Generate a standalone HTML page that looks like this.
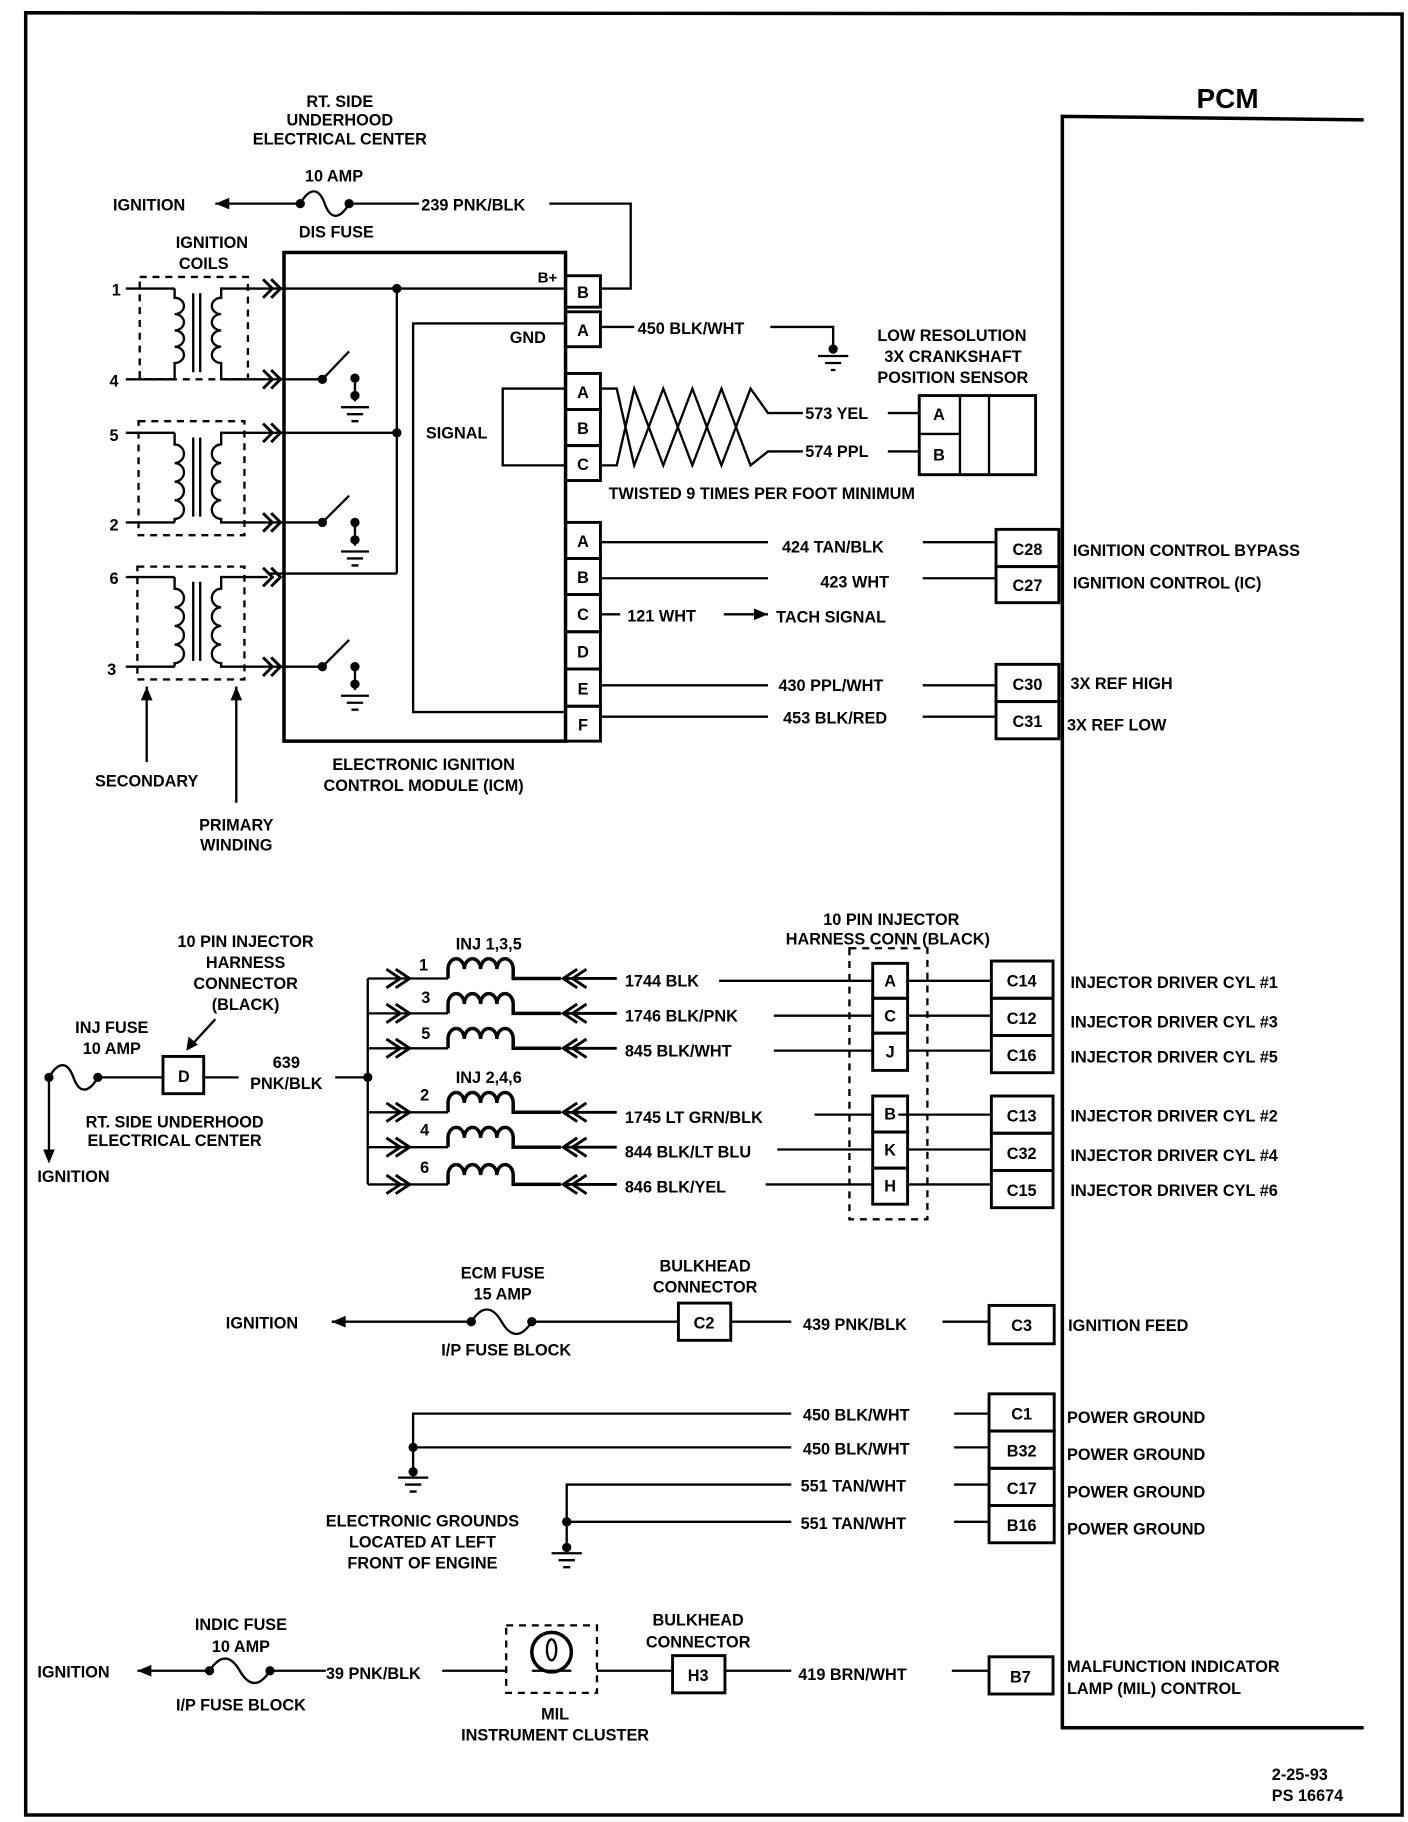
<!DOCTYPE html>
<html><head><meta charset="utf-8"><style>
html,body{margin:0;padding:0;background:#fff}
svg{display:block}
text{font-family:"Liberation Sans",sans-serif;font-weight:bold;font-size:14px;fill:#000}
.m{text-anchor:middle}
</style></head><body>
<svg width="1408" height="1822" viewBox="0 0 1210 1566" xmlns="http://www.w3.org/2000/svg">
<g fill="none" stroke="#000" stroke-width="2">
<path d="M22,1560 V11 L1205,12 V1560 Z" stroke-width="3"/>
<path d="M1172,103 L913,100 V1485 H1172" stroke-width="3"/>
<path d="M185,175 H258 M300,175 H360 M472,175 H542 V248 H516"/>
<path d="M258,175 c8,-14 16,-14 21,0 c5,14 13,14 21,0"/>
<rect x="244" y="217" width="242" height="420" stroke-width="3"/>
<g stroke-width="2.5">
<rect x="486" y="237" width="30" height="27"/><rect x="486" y="268" width="30" height="30"/>
<rect x="486" y="321" width="30" height="31"/><rect x="486" y="352" width="30" height="31"/><rect x="486" y="383" width="30" height="30"/>
<rect x="486" y="449" width="30" height="31"/><rect x="486" y="480" width="30" height="31"/><rect x="486" y="511" width="30" height="32"/><rect x="486" y="543" width="30" height="32"/><rect x="486" y="575" width="30" height="32"/><rect x="486" y="607" width="30" height="30"/>
</g>
<path d="M230,248 H486 M341,248 V493 M230,372 H341 M230,493 H341 M486,278 H355 V612 H486 M486,334 H432 V400 H486"/>
<path d="M230,326 H277 L300,302 M305,325 V345 M230,449 H277 L300,426 M305,449 V469 M230,573 H277 L300,550 M305,573 V593"/>
<path d="M293,350 H317 M298,356 H312 M302,362 H308 M293,474 H317 M298,480 H312 M302,486 H308 M293,598 H317 M298,604 H312 M302,610 H308"/>
<g stroke-dasharray="6,5"><rect x="120" y="238" width="93" height="88"/><rect x="119" y="362" width="91" height="98"/><rect x="118" y="487" width="92" height="97"/></g>
<path d="M108,248 H150 M108,326 H150 M108,372 H150 M108,449 H150 M108,496 H150 M108,573 H150"/>
<path d="M150,248 V256 a8,7 0 0,1 0,14 a8,7 0 0,1 0,14 a8,7 0 0,1 0,14 a8,7 0 0,1 0,14 V326"/>
<path d="M150,372 V382 a8,8 0 0,1 0,16 a8,8 0 0,1 0,16 a8,8 0 0,1 0,16 a8,8 0 0,1 0,16 V449"/>
<path d="M150,496 V506 a8,8 0 0,1 0,16 a8,8 0 0,1 0,16 a8,8 0 0,1 0,16 a8,8 0 0,1 0,16 V573"/>
<path d="M166,252 V320 M172,252 V320 M166,376 V444 M172,376 V444 M166,500 V568 M172,500 V568"/>
<path d="M230,248 H190 V256 a8,7 0 0,0 0,14 a8,7 0 0,0 0,14 a8,7 0 0,0 0,14 a8,7 0 0,0 0,14 V326 H230"/>
<path d="M230,372 H190 V382 a8,8 0 0,0 0,16 a8,8 0 0,0 0,16 a8,8 0 0,0 0,16 a8,8 0 0,0 0,16 V449 H230"/>
<path d="M230,496 H190 V506 a8,8 0 0,0 0,16 a8,8 0 0,0 0,16 a8,8 0 0,0 0,16 a8,8 0 0,0 0,16 V573 H230"/>
<g stroke-width="2.5"><path d="M226,240 l8,8 l-8,8 M233,240 l8,8 l-8,8 M226,318 l8,8 l-8,8 M233,318 l8,8 l-8,8 M226,364 l8,8 l-8,8 M233,364 l8,8 l-8,8 M226,441 l8,8 l-8,8 M233,441 l8,8 l-8,8 M226,488 l8,8 l-8,8 M233,488 l8,8 l-8,8 M226,565 l8,8 l-8,8 M233,565 l8,8 l-8,8"/></g>
<path d="M126,590 V655 M203,590 V690"/>
<path d="M516,281 H545 M662,281 H716 V300 M703,306 H729 M709,312 H723 M714,318 H718"/>
<path d="M516,334 H530 L545,400 L570,334 L595,400 L620,334 L645,400 L660,388 H690 M516,400 H530 L545,334 L570,400 L595,334 L620,400 L645,334 L660,355 H690"/>
<path d="M763,355 H790 M763,388 H790"/>
<rect x="790" y="340" width="100" height="68" stroke-width="2.5"/><path d="M790,373 H825 M825,340 V408 M850,340 V408"/>
<path d="M516,466 H660 M793,466 H856 M516,497 H660 M793,497 H856 M516,528 H533 M622,528 H660 M516,589 H660 M793,589 H856 M516,616 H660 M793,616 H856"/>
<g stroke-width="2.5"><rect x="856" y="455" width="54" height="32"/><rect x="856" y="487" width="54" height="31"/><rect x="856" y="571" width="54" height="32"/><rect x="856" y="603" width="54" height="32"/></g>
<path d="M42,990 V926 M42,926 c8,-14 16,-14 21,0 c5,14 13,14 21,0 M84,926 H140 M175,926 H205 M288,926 H316 M316,841 V1018 M185,876 L162,901"/>
<rect x="140" y="908" width="35" height="32" stroke-width="2.5"/>
<path d="M316,841 H385 M316,871 H385 M316,901 H385 M316,956 H385 M316,986 H385 M316,1018 H385"/>
<g id="c"><path d="M385,841 V833 a7,9 0 0,1 14,0 a7,9 0 0,1 14,0 a7,9 0 0,1 14,0 a7,9 0 0,1 14,0 V841 H482" stroke-width="3"/></g>
<use href="#c" y="30"/><use href="#c" y="60"/><use href="#c" y="115"/><use href="#c" y="145"/><use href="#c" y="177"/>
<g id="a" stroke-width="2.5"><path d="M332,833 l12,8 l-12,8 M340,833 l12,8 l-12,8 M496,833 l-12,8 l12,8 M504,833 l-12,8 l12,8 M484,841 H530"/></g>
<use href="#a" y="30"/><use href="#a" y="60"/><use href="#a" y="115"/><use href="#a" y="145"/><use href="#a" y="177"/>
<path d="M618,843 H750 M665,873 H750 M665,903 H750 M700,958 H750 M668,988 H750 M658,1018 H750"/>
<path d="M780,843 H852 M780,873 H852 M780,903 H852 M772,958 H852 M780,988 H852 M780,1018 H852"/>
<g stroke-width="2.5"><rect x="750" y="828" width="30" height="30"/><rect x="750" y="858" width="30" height="30"/><rect x="750" y="888" width="30" height="32"/>
<rect x="750" y="942" width="30" height="31"/><rect x="750" y="973" width="30" height="31"/><rect x="750" y="1004" width="30" height="31"/>
<rect x="852" y="826" width="53" height="32"/><rect x="852" y="858" width="53" height="32"/><rect x="852" y="890" width="53" height="32"/>
<rect x="852" y="942" width="53" height="32"/><rect x="852" y="974" width="53" height="32"/><rect x="852" y="1006" width="53" height="32"/></g>
<rect x="730" y="815" width="67" height="233" stroke-dasharray="6,5"/>
<path d="M285,1136 H405 M405,1136 c9,-14 18,-14 26,0 c8,14 17,14 26,0 M457,1136 H583 M628,1136 H680 M810,1136 H850"/>
<g stroke-width="2.5"><rect x="583" y="1120" width="45" height="32"/><rect x="850" y="1122" width="56" height="33"/></g>
<path d="M355,1265 V1215 H680 M355,1244 H680 M820,1215 H850 M820,1244 H850 M487,1330 V1276 H680 M487,1308 H680 M820,1276 H850 M820,1308 H850"/>
<path d="M342,1270 H368 M348,1276 H362 M352,1282 H358 M474,1335 H500 M480,1341 H494 M484,1347 H490"/>
<g stroke-width="2.5"><rect x="850" y="1198" width="56" height="32"/><rect x="850" y="1230" width="56" height="32"/><rect x="850" y="1262" width="56" height="32"/><rect x="850" y="1294" width="56" height="32"/></g>
<path d="M118,1436 H180 M180,1436 c9,-14 18,-14 26,0 c8,14 17,14 26,0 M232,1436 H280 M380,1436 H435 M513,1436 H578 M623,1436 H680 M818,1436 H850 M457,1436 H491"/>
<rect x="435" y="1397" width="78" height="58" stroke-dasharray="6,5"/>
<circle cx="474" cy="1420" r="17" stroke-width="3"/><ellipse cx="474" cy="1418" rx="4" ry="9"/>
<g stroke-width="2.5"><rect x="578" y="1423" width="45" height="32"/><rect x="850" y="1424" width="55" height="32"/></g>
</g>
<g fill="#000">
<path d="M185,175 l12,-5 v10 z M42,1000 l-5,-12 h10 z M126,590 l-5,12 h10 z M203,590 l-5,12 h10 z M660,528 l-12,-5 v10 z M160,903 l2,-12 l8,7 z M285,1136 l12,-5 v10 z M118,1436 l12,-5 v10 z"/>
<circle cx="258" cy="175" r="4"/><circle cx="300" cy="175" r="4"/><circle cx="341" cy="248" r="4"/><circle cx="341" cy="372" r="4"/>
<circle cx="277" cy="326" r="4"/><circle cx="305" cy="325" r="4"/><circle cx="305" cy="340" r="4"/>
<circle cx="277" cy="449" r="4"/><circle cx="305" cy="449" r="4"/><circle cx="305" cy="464" r="4"/>
<circle cx="277" cy="573" r="4"/><circle cx="305" cy="573" r="4"/><circle cx="305" cy="588" r="4"/>
<circle cx="716" cy="300" r="4"/><circle cx="42" cy="926" r="4"/><circle cx="84" cy="926" r="4"/><circle cx="316" cy="926" r="4"/>
<circle cx="405" cy="1136" r="4"/><circle cx="457" cy="1136" r="4"/><circle cx="355" cy="1244" r="4"/><circle cx="355" cy="1265" r="4"/>
<circle cx="487" cy="1308" r="4"/><circle cx="487" cy="1330" r="4"/><circle cx="180" cy="1436" r="4"/><circle cx="232" cy="1436" r="4"/>
</g>
<text x="1055" y="93" class="m" style="font-size:24px">PCM</text>
<text x="292" y="92" class="m">RT. SIDE</text><text x="292" y="108" class="m">UNDERHOOD</text><text x="292" y="124" class="m">ELECTRICAL CENTER</text>
<text x="287" y="156" class="m">10 AMP</text><text x="97" y="181">IGNITION</text><text x="362" y="181">239 PNK/BLK</text>
<text x="289" y="204" class="m">DIS FUSE</text><text x="182" y="213" class="m">IGNITION</text><text x="175" y="231" class="m">COILS</text>
<text x="462" y="243" style="font-size:13px">B+</text><text x="438" y="295">GND</text><text x="366" y="377">SIGNAL</text>
<text x="501" y="256" class="m">B</text><text x="501" y="289" class="m">A</text><text x="501" y="342" class="m">A</text><text x="501" y="373" class="m">B</text><text x="501" y="404" class="m">C</text>
<text x="501" y="470" class="m">A</text><text x="501" y="501" class="m">B</text><text x="501" y="533" class="m">C</text><text x="501" y="565" class="m">D</text><text x="501" y="597" class="m">E</text><text x="501" y="628" class="m">F</text>
<text x="96" y="254">1</text><text x="94" y="332">4</text><text x="94" y="379">5</text><text x="94" y="456">2</text><text x="94" y="502">6</text><text x="92" y="580">3</text>
<text x="126" y="676" class="m">SECONDARY</text><text x="203" y="714" class="m">PRIMARY</text><text x="203" y="731" class="m">WINDING</text>
<text x="364" y="662" class="m">ELECTRONIC IGNITION</text><text x="364" y="680" class="m">CONTROL MODULE (ICM)</text>
<text x="548" y="287">450 BLK/WHT</text>
<text x="754" y="293">LOW RESOLUTION</text><text x="760" y="311">3X CRANKSHAFT</text><text x="754" y="329">POSITION SENSOR</text>
<text x="692" y="360">573 YEL</text><text x="692" y="393">574 PPL</text><text x="807" y="361" class="m">A</text><text x="807" y="396" class="m">B</text>
<text x="523" y="429">TWISTED 9 TIMES PER FOOT MINIMUM</text>
<text x="672" y="475">424 TAN/BLK</text><text x="705" y="505">423 WHT</text><text x="539" y="534">121 WHT</text><text x="667" y="535">TACH SIGNAL</text>
<text x="669" y="594">430 PPL/WHT</text><text x="673" y="622">453 BLK/RED</text>
<text x="883" y="477" class="m">C28</text><text x="883" y="508" class="m">C27</text><text x="883" y="593" class="m">C30</text><text x="883" y="625" class="m">C31</text>
<text x="922" y="478">IGNITION CONTROL BYPASS</text><text x="922" y="506">IGNITION CONTROL (IC)</text><text x="920" y="592">3X REF HIGH</text><text x="917" y="628">3X REF LOW</text>
<text x="211" y="814" class="m">10 PIN INJECTOR</text><text x="211" y="832" class="m">HARNESS</text><text x="211" y="850" class="m">CONNECTOR</text><text x="211" y="868" class="m">(BLACK)</text>
<text x="96" y="888" class="m">INJ FUSE</text><text x="96" y="906" class="m">10 AMP</text><text x="158" y="930" class="m">D</text>
<text x="246" y="918" class="m">639</text><text x="246" y="936" class="m">PNK/BLK</text>
<text x="150" y="969" class="m">RT. SIDE UNDERHOOD</text><text x="150" y="985" class="m">ELECTRICAL CENTER</text><text x="32" y="1016">IGNITION</text>
<text x="420" y="816" class="m">INJ 1,3,5</text><text x="420" y="931" class="m">INJ 2,4,6</text>
<text x="360" y="834">1</text><text x="362" y="862">3</text><text x="362" y="893">5</text><text x="361" y="946">2</text><text x="361" y="976">4</text><text x="361" y="1008">6</text>
<text x="766" y="795" class="m">10 PIN INJECTOR</text><text x="763" y="812" class="m">HARNESS CONN (BLACK)</text>
<text x="537" y="848">1744 BLK</text><text x="537" y="878">1746 BLK/PNK</text><text x="537" y="908">845 BLK/WHT</text>
<text x="537" y="965">1745 LT GRN/BLK</text><text x="537" y="995">844 BLK/LT BLU</text><text x="537" y="1025">846 BLK/YEL</text>
<text x="765" y="848" class="m">A</text><text x="765" y="878" class="m">C</text><text x="765" y="909" class="m">J</text><text x="765" y="962" class="m">B</text><text x="765" y="993" class="m">K</text><text x="765" y="1024" class="m">H</text>
<text x="878" y="848" class="m">C14</text><text x="878" y="880" class="m">C12</text><text x="878" y="912" class="m">C16</text><text x="878" y="964" class="m">C13</text><text x="878" y="996" class="m">C32</text><text x="878" y="1028" class="m">C15</text>
<text x="920" y="849">INJECTOR DRIVER CYL #1</text><text x="920" y="883">INJECTOR DRIVER CYL #3</text><text x="920" y="913">INJECTOR DRIVER CYL #5</text>
<text x="920" y="964">INJECTOR DRIVER CYL #2</text><text x="920" y="998">INJECTOR DRIVER CYL #4</text><text x="920" y="1028">INJECTOR DRIVER CYL #6</text>
<text x="432" y="1099" class="m">ECM FUSE</text><text x="432" y="1117" class="m">15 AMP</text><text x="194" y="1142">IGNITION</text>
<text x="606" y="1093" class="m">BULKHEAD</text><text x="606" y="1111" class="m">CONNECTOR</text><text x="605" y="1142" class="m">C2</text>
<text x="690" y="1143">439 PNK/BLK</text><text x="878" y="1144" class="m">C3</text><text x="918" y="1144">IGNITION FEED</text>
<text x="435" y="1165" class="m">I/P FUSE BLOCK</text>
<text x="690" y="1221">450 BLK/WHT</text><text x="690" y="1250">450 BLK/WHT</text><text x="688" y="1282">551 TAN/WHT</text><text x="688" y="1314">551 TAN/WHT</text>
<text x="878" y="1220" class="m">C1</text><text x="878" y="1252" class="m">B32</text><text x="878" y="1284" class="m">C17</text><text x="878" y="1316" class="m">B16</text>
<text x="917" y="1223">POWER GROUND</text><text x="917" y="1255">POWER GROUND</text><text x="917" y="1287">POWER GROUND</text><text x="917" y="1319">POWER GROUND</text>
<text x="363" y="1312" class="m">ELECTRONIC GROUNDS</text><text x="363" y="1330" class="m">LOCATED AT LEFT</text><text x="363" y="1348" class="m">FRONT OF ENGINE</text>
<text x="207" y="1401" class="m">INDIC FUSE</text><text x="207" y="1420" class="m">10 AMP</text><text x="32" y="1442">IGNITION</text>
<text x="280" y="1443">39 PNK/BLK</text><text x="600" y="1397" class="m">BULKHEAD</text><text x="600" y="1416" class="m">CONNECTOR</text>
<text x="600" y="1445" class="m">H3</text><text x="686" y="1444">419 BRN/WHT</text><text x="877" y="1446" class="m">B7</text>
<text x="917" y="1437">MALFUNCTION INDICATOR</text><text x="917" y="1456">LAMP (MIL) CONTROL</text>
<text x="207" y="1470" class="m">I/P FUSE BLOCK</text><text x="477" y="1478" class="m">MIL</text><text x="477" y="1496" class="m">INSTRUMENT CLUSTER</text>
<text x="1093" y="1530">2-25-93</text><text x="1093" y="1548">PS 16674</text>
</svg>
</body></html>
